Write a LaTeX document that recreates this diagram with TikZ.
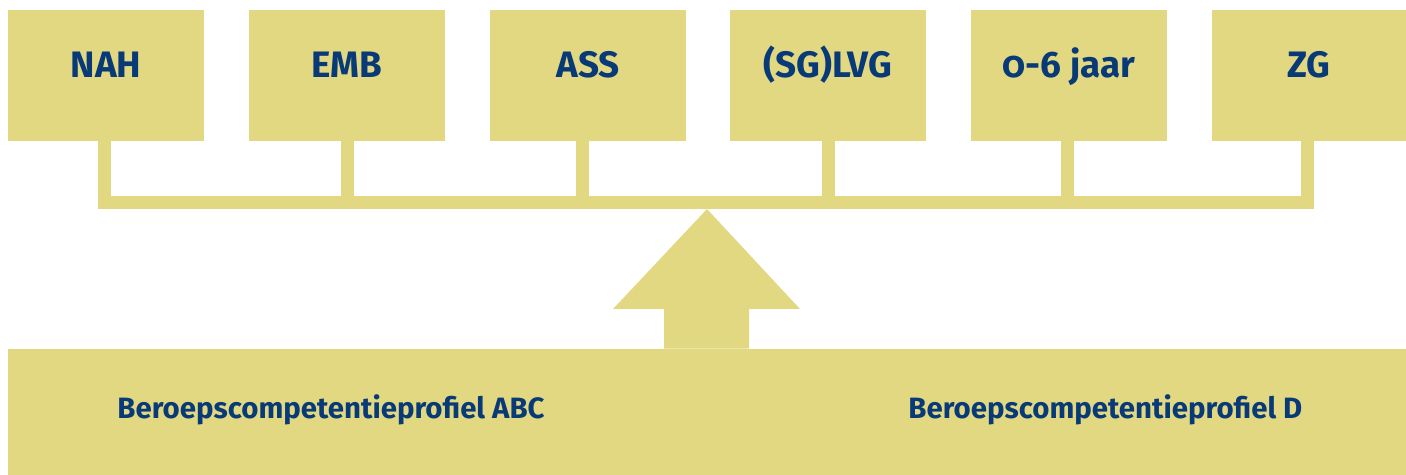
\documentclass[tikz,border=0pt]{standalone}
\usepackage{fontspec}
\setmainfont{Fira Sans}[Numbers=OldStyle]
\definecolor{ochre}{RGB}{226,216,130}
\definecolor{navy}{RGB}{8,58,120}
\begin{document}
\begin{tikzpicture}[x=0.5pt,y=-0.5pt,
  box/.style={fill=ochre,draw=none,minimum width=98pt,minimum height=65.5pt,inner sep=0pt,
    text=navy,font=\fontsize{18.4}{20}\selectfont\bfseries,text height=2.5pt,text depth=0pt},
  base/.style={fill=ochre,draw=none,minimum width=699pt,minimum height=63pt,inner sep=0pt},
  blab/.style={text=navy,font=\fontsize{14.7}{17}\selectfont\bfseries,inner sep=0pt,anchor=base west},
  conn/.style={draw=ochre,line width=6.5pt,line join=miter,line cap=butt}]
\useasboundingbox (0,0) rectangle (1406,475);
\node[box] (nah) at (106,75.5) {NAH};
\node[box] (emb) at (347,75.5) {EMB};
\node[box] (ass) at (588,75.5) {ASS};
\node[box] (lvg) at (828,75.5) {(SG)LVG};
\node[box] (jaar) at (1069,75.5) {0-6 jaar};
\node[box,minimum width=97pt] (zg) at (1309,75.5) {ZG};
\node[base] (prof) at (707,412) {};
\node[blab] (abc) at (117,418) {Beroepscompetentieprofiel ABC};
\node[blab] (d) at (908,418) {Beroepscompetentieprofiel D};
\coordinate (bar) at (0,202.5);
\coordinate (tip) at (707,209);
% connectors
\draw[conn] ([xshift=-0.75pt]nah.south) -- ([xshift=-0.75pt]nah.south |- bar) -- ([xshift=-0.75pt]zg.south |- bar) -- ([xshift=-0.75pt]zg.south);
\draw[conn] (emb.south) -- (emb.south |- bar);
\draw[conn] ([xshift=-2.75pt]ass.south) -- ([xshift=-2.75pt]ass.south |- bar);
\draw[conn] (lvg.south) -- (lvg.south |- bar);
\draw[conn] ([xshift=-0.75pt]jaar.south) -- ([xshift=-0.75pt]jaar.south |- bar);
% arrow
\fill[ochre] (prof.north -| 664,0) -- (664,309) -- (613,309) -- (tip) -- (800,309) -- (749,309) -- (prof.north -| 749,0) -- cycle;
\end{tikzpicture}
\end{document}
